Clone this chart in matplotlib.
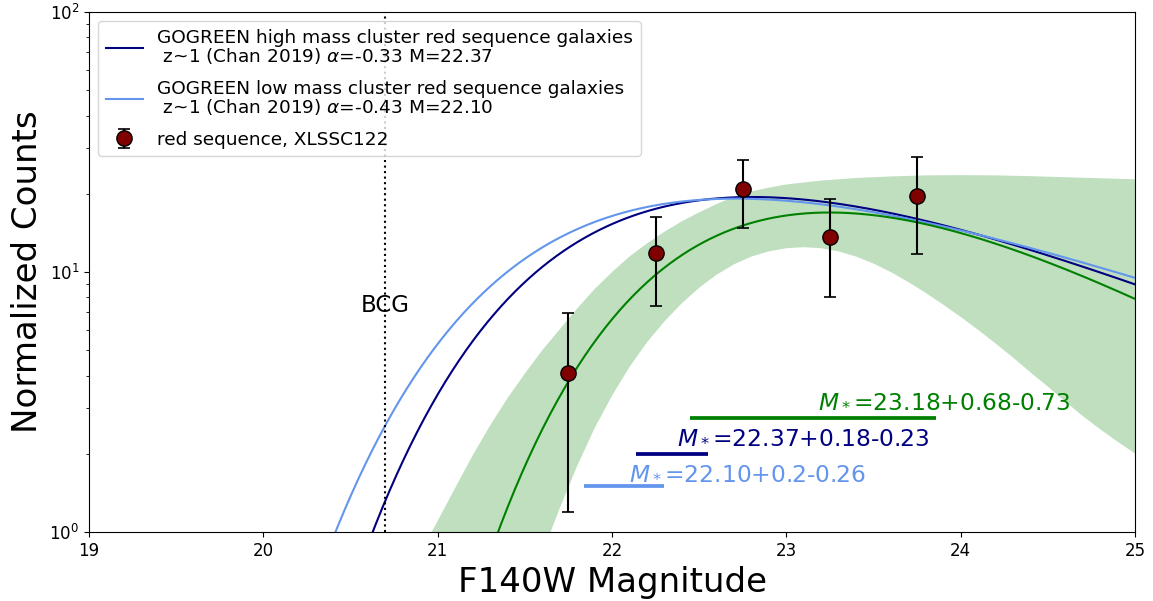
import numpy as np
import matplotlib
matplotlib.use("Agg")
import matplotlib.pyplot as plt

# red sequence counts, XLSSC122
mag_bins = [21.75, 22.25, 22.75, 23.25, 23.75]
counts = [4.08, 11.86, 20.84, 13.63, 19.7]
counts_lo = [1.2, 7.39, 14.8, 8.04, 11.76]
counts_hi = [6.94, 16.3, 26.9, 19.1, 27.6]

# Schechter parameters (alpha, M*, normalisation)
high_alpha, high_mstar, high_norm = -0.33, 22.37, 49.7
low_alpha, low_mstar, low_norm = -0.43, 22.10, 46.7
fit_alpha, fit_mstar, fit_norm = -0.06, 23.18, 46.0

# M* uncertainties (minus, plus)
high_err = [0.23, 0.18]
low_err = [0.26, 0.2]
fit_err = [0.73, 0.68]

# shaded band edges
upper_x = [20.965, 21.1, 21.2, 21.3, 21.4, 21.5, 21.6, 21.7, 21.8, 21.9, 22.0,
           22.1, 22.2, 22.3, 22.4, 22.5, 22.6, 22.7, 22.8, 22.9, 23.0, 23.2,
           23.4, 23.6, 23.8, 24.0, 24.2, 24.4, 24.6, 24.8, 25.0]
upper_y = [1.0, 1.479, 1.972, 2.57, 3.273, 4.074, 5.012, 6.026, 7.244, 8.61, 10.0,
           11.48, 12.88, 14.29, 15.67, 16.98, 18.28, 19.5, 20.42, 21.13, 21.73, 22.49,
           23.01, 23.33, 23.55, 23.6, 23.55, 23.39, 23.17, 22.96, 22.75]
lower_x = [21.647, 21.7, 21.8, 21.9, 22.0, 22.1, 22.2, 22.3, 22.4, 22.5, 22.6,
           22.7, 22.8, 22.9, 23.0, 23.1, 23.2, 23.3, 23.4, 23.5, 23.6, 23.7,
           23.8, 23.9, 24.0, 24.1, 24.2, 24.3, 24.4, 24.5, 24.6, 24.7, 24.8,
           24.9, 25.0]
lower_y = [1.0, 1.236, 1.799, 2.512, 3.35, 4.315, 5.37, 6.457, 7.586, 8.71, 9.772,
           10.72, 11.48, 12.02, 12.36, 12.47, 12.36, 12.02, 11.48, 10.79, 10.0, 9.16,
           8.32, 7.5, 6.73, 6.0, 5.32, 4.7, 4.12, 3.63, 3.18, 2.8, 2.49,
           2.23, 2.01]

bcg_mag = 20.7


def schechter(m, alpha, mstar, norm):
    u = 10 ** (0.4 * (mstar - m))
    return norm * u ** (alpha + 1) * np.exp(-u)


fig = plt.figure(figsize=(11.53, 6.01), dpi=100)
ax = fig.add_axes([89 / 1153, 1 - 532.3 / 601, (1135 - 89) / 1153, (532.3 - 12) / 601])

m = np.linspace(19, 25, 600)

# band as a closed polygon: upper edge left->right, lower edge right->left
band_px = upper_x + lower_x[::-1]
band_py = upper_y + lower_y[::-1]
ax.fill(band_px, band_py, color="green", alpha=0.25, lw=0)

ax.plot(m, schechter(m, high_alpha, high_mstar, high_norm), color="navy", lw=1.5,
        label="GOGREEN high mass cluster red sequence galaxies\n z~1 (Chan 2019) $\\alpha$=-0.33 M=22.37")
ax.plot(m, schechter(m, low_alpha, low_mstar, low_norm), color="cornflowerblue", lw=1.5,
        label="GOGREEN low mass cluster red sequence galaxies\n z~1 (Chan 2019) $\\alpha$=-0.43 M=22.10")
ax.plot(m, schechter(m, fit_alpha, fit_mstar, fit_norm), color="green", lw=1.5)

yerr = [np.array(counts) - np.array(counts_lo), np.array(counts_hi) - np.array(counts)]
ax.errorbar(mag_bins, counts, yerr=yerr, fmt="o", color="black", ecolor="black",
            mfc="maroon", mec="black", ms=11, elinewidth=1.5, capsize=4, capthick=1.2,
            zorder=5, label="red sequence, XLSSC122")

ax.axvline(bcg_mag, color="black", ls=":", lw=1.5)
ax.text(20.56, 7.0, "BCG", fontsize=16.5)

# M* bars with labels
ax.hlines(2.75, fit_mstar - fit_err[0], fit_mstar + fit_err[1], color="green", lw=2.7)
ax.hlines(2.0, high_mstar - high_err[0], high_mstar + high_err[1], color="navy", lw=2.7)
ax.hlines(1.5, low_mstar - low_err[0], low_mstar + low_err[1], color="cornflowerblue", lw=2.7)
ax.text(fit_mstar, 3.04, r"$M_*$=23.18+0.68-0.73", color="green", fontsize=16.8)
ax.text(high_mstar, 2.21, r"$M_*$=22.37+0.18-0.23", color="navy", fontsize=16.8)
ax.text(low_mstar, 1.607, r"$M_*$=22.10+0.2-0.26", color="cornflowerblue", fontsize=16.8)

ax.set_yscale("log")
ax.set_xlim(19, 25)
ax.set_ylim(1, 100)
ax.tick_params(labelsize=12)
ax.set_xlabel("F140W Magnitude", fontsize=24.5)
ax.set_ylabel("Normalized Counts", fontsize=24.5)
leg = ax.legend(loc="upper left", fontsize=13.3, labelspacing=0.75)
for t in leg.get_texts():
    t.set_linespacing(0.95)

fig.savefig("out.png", dpi=100)
